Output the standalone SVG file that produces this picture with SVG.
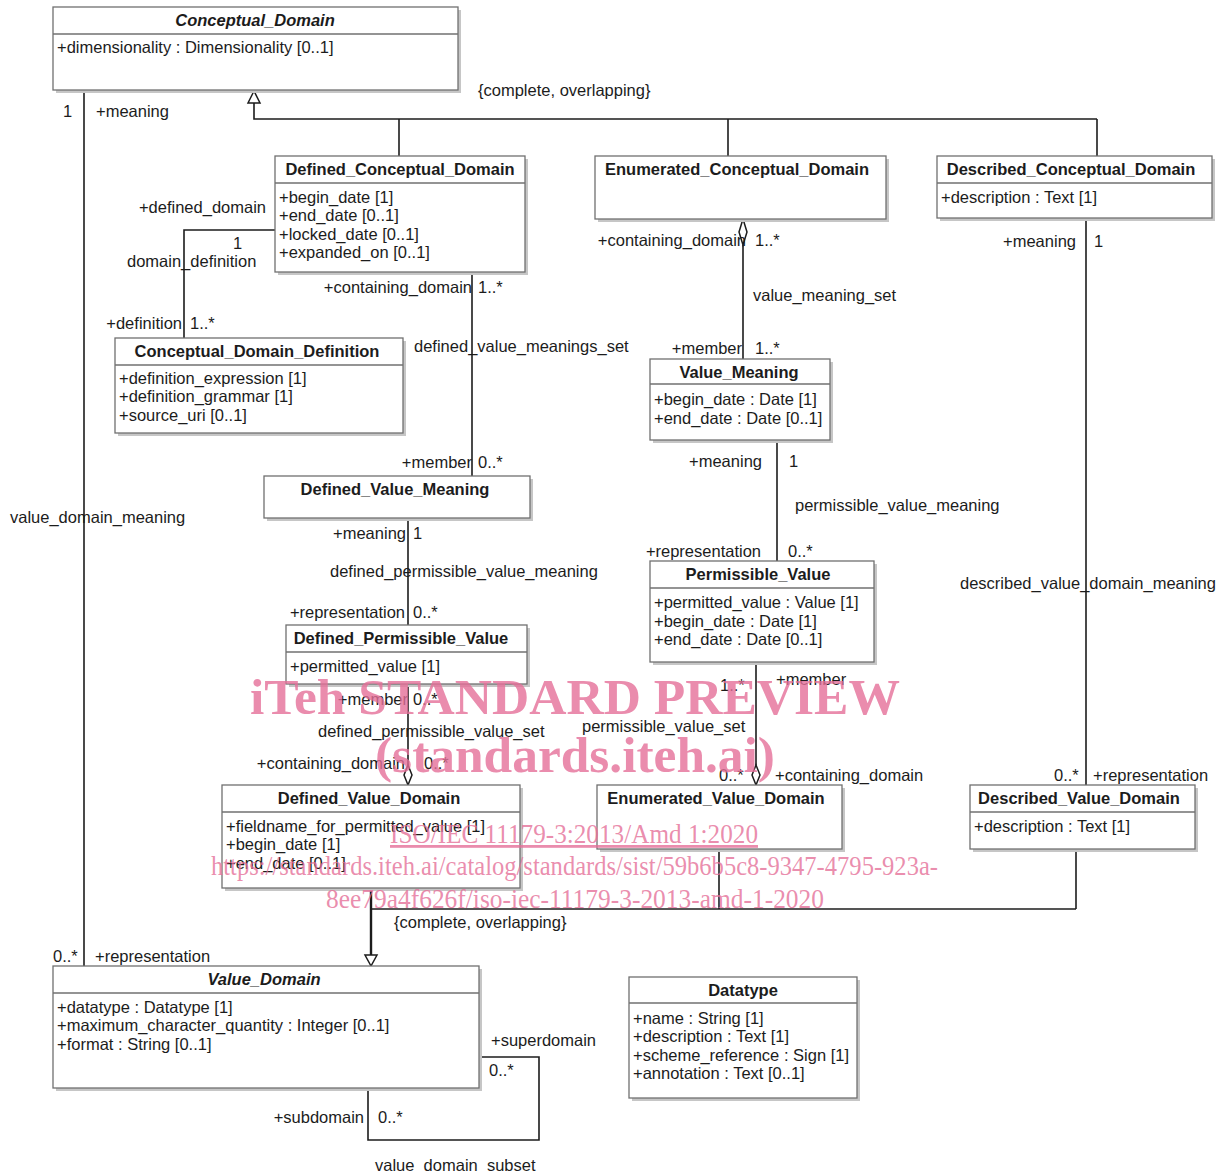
<svg xmlns="http://www.w3.org/2000/svg" width="1232" height="1173" viewBox="0 0 1232 1173">
<defs>
<style>
.bx{fill:#fff;stroke:#707070;stroke-width:1.3}
.sh{fill:#c6c6c6}
.sep{stroke:#707070;stroke-width:1.3}
.t{font-family:"Liberation Sans",Arial,sans-serif;font-size:16.5px;fill:#1c1c1c}
.b{font-weight:bold}
.i{font-style:italic}
.c{text-anchor:middle}
.e{text-anchor:end}
.ln{stroke:#1c1c1c;stroke-width:1.6;fill:none}
.hd{fill:#fff;stroke:#1c1c1c;stroke-width:1.5}
.wm{font-family:"Liberation Serif","Times New Roman",serif;fill:#e56f98;fill-opacity:0.8}
</style>
</defs>
<rect width="1232" height="1173" fill="#fff"/>

<g id="connectors">
<polyline class="ln" points="254,103 254,119 1097,119"/>
<line class="ln" x1="399" y1="119" x2="399" y2="156"/>
<line class="ln" x1="728" y1="119" x2="728" y2="156"/>
<line class="ln" x1="1097" y1="119" x2="1097" y2="156"/>
<polygon class="hd" points="254,91 248,103 260,103"/>
<line class="ln" x1="84" y1="91" x2="84" y2="966"/>
<polyline class="ln" points="275,230 184,230 184,338"/>
<line class="ln" x1="472" y1="272" x2="472" y2="476"/>
<line class="ln" x1="743" y1="245" x2="743" y2="359"/>
<polygon class="hd" points="743,219 739,232 743,245 747,232"/>
<line class="ln" x1="777" y1="440" x2="777" y2="561"/>
<line class="ln" x1="408" y1="518" x2="408" y2="625"/>
<line class="ln" x1="408" y1="684" x2="408" y2="765"/>
<polygon class="hd" points="408,765 404,775 408,785 412,775"/>
<line class="ln" x1="756" y1="662" x2="756" y2="765"/>
<polygon class="hd" points="756,765 752,775 756,785 760,775"/>
<line class="ln" x1="1086" y1="218" x2="1086" y2="785"/>
<line class="ln" x1="371" y1="888" x2="371" y2="955" style="stroke-width:2.4"/>
<polyline class="ln" points="371,909 1076,909"/>
<line class="ln" x1="719" y1="849" x2="719" y2="909"/>
<line class="ln" x1="1076" y1="849" x2="1076" y2="909"/>
<polygon class="hd" points="365,955 377,955 371,966"/>
<polyline class="ln" points="479,1057 539,1057 539,1140 368,1140 368,1088"/>

<text class="t" x="478" y="96">{complete, overlapping}</text>
<text class="t" x="63" y="117">1</text>
<text class="t" x="96" y="117">+meaning</text>
<text class="t" x="10" y="523">value_domain_meaning</text>
<text class="t" x="53" y="962">0..*</text>
<text class="t" x="95" y="962">+representation</text>

<text class="t e" x="266" y="213">+defined_domain</text>
<text class="t" x="233" y="249">1</text>
<text class="t" x="127" y="267">domain_definition</text>
<text class="t e" x="182" y="329">+definition</text>
<text class="t" x="190" y="329">1..*</text>

<text class="t e" x="472" y="293">+containing_domain</text>
<text class="t" x="478" y="293">1..*</text>
<text class="t" x="414" y="352">defined_value_meanings_set</text>
<text class="t e" x="472" y="468">+member</text>
<text class="t" x="478" y="468">0..*</text>

<text class="t e" x="746" y="246">+containing_domain</text>
<text class="t" x="755" y="246">1..*</text>
<text class="t" x="753" y="301">value_meaning_set</text>
<text class="t e" x="742" y="354">+member</text>
<text class="t" x="755" y="354">1..*</text>

<text class="t e" x="762" y="467">+meaning</text>
<text class="t" x="789" y="467">1</text>
<text class="t" x="795" y="511">permissible_value_meaning</text>
<text class="t e" x="761" y="557">+representation</text>
<text class="t" x="788" y="557">0..*</text>

<text class="t e" x="406" y="539">+meaning</text>
<text class="t" x="413" y="539">1</text>
<text class="t" x="330" y="577">defined_permissible_value_meaning</text>
<text class="t e" x="405" y="618">+representation</text>
<text class="t" x="413" y="618">0..*</text>

<text class="t e" x="408" y="705">+member</text>
<text class="t" x="413" y="705">0..*</text>
<text class="t" x="318" y="737">defined_permissible_value_set</text>
<text class="t e" x="405" y="769">+containing_domain</text>
<text class="t" x="424" y="769">0..*</text>

<text class="t" x="720" y="691">1..*</text>
<text class="t" x="776" y="685">+member</text>
<text class="t" x="582" y="732">permissible_value_set</text>
<text class="t" x="719" y="781">0..*</text>
<text class="t" x="775" y="781">+containing_domain</text>

<text class="t e" x="1076" y="247">+meaning</text>
<text class="t" x="1094" y="247">1</text>
<text class="t" x="960" y="589">described_value_domain_meaning</text>
<text class="t" x="1054" y="781">0..*</text>
<text class="t" x="1093" y="781">+representation</text>

<text class="t" x="394" y="928">{complete, overlapping}</text>

<text class="t" x="491" y="1046">+superdomain</text>
<text class="t" x="489" y="1076">0..*</text>
<text class="t e" x="364" y="1123">+subdomain</text>
<text class="t" x="378" y="1123">0..*</text>
<text class="t" x="375" y="1171">value_domain_subset</text>
</g>

<g id="Conceptual_Domain">
<rect class="sh" x="56" y="10" width="405" height="83"/>
<rect class="bx" x="53" y="7" width="405" height="83"/>
<line class="sep" x1="53" y1="34" x2="458" y2="34"/>
<text class="t b i c" x="255" y="26">Conceptual_Domain</text>
<text class="t" x="57" y="53">+dimensionality : Dimensionality [0..1]</text>
</g>

<g id="Defined_Conceptual_Domain">
<rect class="sh" x="278" y="159" width="250" height="116"/>
<rect class="bx" x="275" y="156" width="250" height="116"/>
<line class="sep" x1="275" y1="183" x2="525" y2="183"/>
<text class="t b c" x="400" y="175">Defined_Conceptual_Domain</text>
<text class="t" x="279" y="203">+begin_date [1]</text>
<text class="t" x="279" y="221">+end_date [0..1]</text>
<text class="t" x="279" y="240">+locked_date [0..1]</text>
<text class="t" x="279" y="258">+expanded_on [0..1]</text>
</g>

<g id="Enumerated_Conceptual_Domain">
<rect class="sh" x="598" y="159" width="291" height="63"/>
<rect class="bx" x="595" y="156" width="291" height="63"/>
<text class="t b c" x="737" y="175">Enumerated_Conceptual_Domain</text>
</g>

<g id="Described_Conceptual_Domain">
<rect class="sh" x="940" y="159" width="275" height="62"/>
<rect class="bx" x="937" y="156" width="275" height="62"/>
<line class="sep" x1="937" y1="183" x2="1212" y2="183"/>
<text class="t b c" x="1071" y="175">Described_Conceptual_Domain</text>
<text class="t" x="941" y="203">+description : Text [1]</text>
</g>

<g id="Conceptual_Domain_Definition">
<rect class="sh" x="118" y="341" width="288" height="95"/>
<rect class="bx" x="115" y="338" width="288" height="95"/>
<line class="sep" x1="115" y1="365" x2="403" y2="365"/>
<text class="t b c" x="257" y="357">Conceptual_Domain_Definition</text>
<text class="t" x="119" y="384">+definition_expression [1]</text>
<text class="t" x="119" y="402">+definition_grammar [1]</text>
<text class="t" x="119" y="421">+source_uri [0..1]</text>
</g>

<g id="Value_Meaning">
<rect class="sh" x="653" y="362" width="180" height="81"/>
<rect class="bx" x="650" y="359" width="180" height="81"/>
<line class="sep" x1="650" y1="384" x2="830" y2="384"/>
<text class="t b c" x="739" y="378">Value_Meaning</text>
<text class="t" x="654" y="405">+begin_date : Date [1]</text>
<text class="t" x="654" y="424">+end_date : Date [0..1]</text>
</g>

<g id="Defined_Value_Meaning">
<rect class="sh" x="267" y="479" width="266" height="42"/>
<rect class="bx" x="264" y="476" width="266" height="42"/>
<text class="t b c" x="395" y="495">Defined_Value_Meaning</text>
</g>

<g id="Permissible_Value">
<rect class="sh" x="653" y="564" width="224" height="101"/>
<rect class="bx" x="650" y="561" width="224" height="101"/>
<line class="sep" x1="650" y1="588" x2="874" y2="588"/>
<text class="t b c" x="758" y="580">Permissible_Value</text>
<text class="t" x="654" y="608">+permitted_value : Value [1]</text>
<text class="t" x="654" y="627">+begin_date : Date [1]</text>
<text class="t" x="654" y="645">+end_date : Date [0..1]</text>
</g>

<g id="Defined_Permissible_Value">
<rect class="sh" x="289" y="628" width="241" height="59"/>
<rect class="bx" x="286" y="625" width="241" height="59"/>
<line class="sep" x1="286" y1="652" x2="527" y2="652"/>
<text class="t b c" x="401" y="644">Defined_Permissible_Value</text>
<text class="t" x="290" y="672">+permitted_value [1]</text>
</g>

<g id="Defined_Value_Domain">
<rect class="sh" x="225" y="788" width="298" height="103"/>
<rect class="bx" x="222" y="785" width="298" height="103"/>
<line class="sep" x1="222" y1="812" x2="520" y2="812"/>
<text class="t b c" x="369" y="804">Defined_Value_Domain</text>
<text class="t" x="226" y="832">+fieldname_for_permitted_value [1]</text>
<text class="t" x="226" y="850">+begin_date [1]</text>
<text class="t" x="226" y="869">+end_date [0..1]</text>
</g>

<g id="Enumerated_Value_Domain">
<rect class="sh" x="600" y="788" width="245" height="64"/>
<rect class="bx" x="597" y="785" width="245" height="64"/>
<text class="t b c" x="716" y="804">Enumerated_Value_Domain</text>
</g>

<g id="Described_Value_Domain">
<rect class="sh" x="973" y="788" width="225" height="64"/>
<rect class="bx" x="970" y="785" width="225" height="64"/>
<line class="sep" x1="970" y1="812" x2="1195" y2="812"/>
<text class="t b c" x="1079" y="804">Described_Value_Domain</text>
<text class="t" x="974" y="832">+description : Text [1]</text>
</g>

<g id="Value_Domain">
<rect class="sh" x="56" y="969" width="426" height="122"/>
<rect class="bx" x="53" y="966" width="426" height="122"/>
<line class="sep" x1="53" y1="993" x2="479" y2="993"/>
<text class="t b i c" x="264" y="985">Value_Domain</text>
<text class="t" x="57" y="1013">+datatype : Datatype [1]</text>
<text class="t" x="57" y="1031">+maximum_character_quantity : Integer [0..1]</text>
<text class="t" x="57" y="1050">+format : String [0..1]</text>
</g>

<g id="Datatype">
<rect class="sh" x="632" y="980" width="228" height="121"/>
<rect class="bx" x="629" y="977" width="228" height="121"/>
<line class="sep" x1="629" y1="1003" x2="857" y2="1003"/>
<text class="t b c" x="743" y="996">Datatype</text>
<text class="t" x="633" y="1024">+name : String [1]</text>
<text class="t" x="633" y="1042">+description : Text [1]</text>
<text class="t" x="633" y="1061">+scheme_reference : Sign [1]</text>
<text class="t" x="633" y="1079">+annotation : Text [0..1]</text>
</g>

<g id="watermark">
<text class="wm" x="250" y="714" font-size="50" font-weight="bold" textLength="650" lengthAdjust="spacingAndGlyphs">iTeh STANDARD PREVIEW</text>
<text class="wm" x="375" y="772" font-size="50" font-weight="bold" textLength="400" lengthAdjust="spacingAndGlyphs">(standards.iteh.ai)</text>
<text class="wm" x="390" y="843" font-size="28" text-decoration="underline" textLength="368" lengthAdjust="spacingAndGlyphs">ISO/IEC 11179-3:2013/Amd 1:2020</text>
<text class="wm" x="211" y="875" font-size="28" textLength="727" lengthAdjust="spacingAndGlyphs">https://standards.iteh.ai/catalog/standards/sist/59b6b5c8-9347-4795-923a-</text>
<text class="wm" x="326" y="908" font-size="28" textLength="498" lengthAdjust="spacingAndGlyphs">8ee79a4f626f/iso-iec-11179-3-2013-amd-1-2020</text>
</g>
</svg>
